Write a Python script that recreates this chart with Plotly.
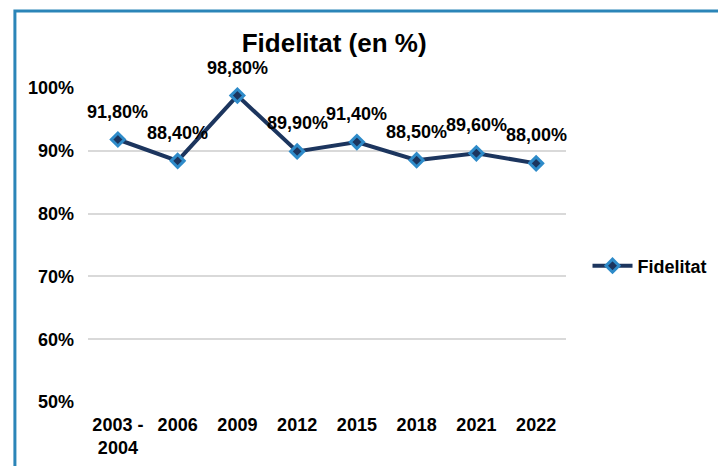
import plotly.graph_objects as go

# Survey waves and loyalty share (%)
years = ["2003 -<br>2004", "2006", "2009", "2012", "2015", "2018", "2021", "2022"]
fidelitat = [91.8, 88.4, 98.8, 89.9, 91.4, 88.5, 89.6, 88.0]
y_ticks = [50, 60, 70, 80, 90, 100]
y_tick_text = [f"{v}%" for v in y_ticks]

FONT = "Liberation Sans, Arial, sans-serif"
NAVY = "#1c355e"
BLUE = "#2e8bc9"
SIZE = 18

fig = go.Figure()
fig.add_trace(go.Scatter(
    x=list(range(len(years))), y=fidelitat, mode="lines+markers", name="Fidelitat",
    line=dict(color=NAVY, width=4),
    marker=dict(symbol="diamond", size=10, color=NAVY,
                line=dict(color=BLUE, width=3)),
    cliponaxis=False,
))

# Value labels above each point, formatted with a decimal comma
for i, v in enumerate(fidelitat):
    fig.add_annotation(
        x=i, y=v, text=f"{v:.2f}".replace(".", ",") + "%",
        showarrow=False, yshift=28, yanchor="middle",
        font=dict(family=FONT, size=SIZE, color="black", weight="bold"),
    )

fig.update_layout(
    width=718, height=466,
    margin=dict(l=88, r=152, t=88, b=64, autoexpand=False),
    paper_bgcolor="white", plot_bgcolor="white",
    title=dict(text="Fidelitat (en %)", x=0.515, xref="paper", xanchor="center",
               y=1 - 43 / 466, yanchor="middle",
               font=dict(family=FONT, size=26, color="black", weight="bold")),
    xaxis=dict(range=[-0.5, 7.5], tickvals=list(range(len(years))), ticktext=years,
               showgrid=False, showline=False, zeroline=False, ticks="",
               ticklabelstandoff=10,
               tickfont=dict(family=FONT, size=SIZE, color="black", weight="bold")),
    yaxis=dict(range=[50, 100], tickvals=y_ticks, ticktext=y_tick_text,
               showgrid=True, gridcolor="#d9d9d9", gridwidth=1.5,
               showline=False, zeroline=False, ticks="", ticklabelstandoff=13,
               tickfont=dict(family=FONT, size=SIZE, color="black", weight="bold")),
    legend=dict(x=1.045, xanchor="left", y=0.433, yanchor="middle",
                bgcolor="rgba(0,0,0,0)", itemwidth=40,
                font=dict(family=FONT, size=SIZE, color="black", weight="bold")),
    showlegend=True,
    shapes=[dict(type="rect", xref="paper", yref="paper",
                 x0=-0.1529, x1=2.0, y0=-1.0, y1=1.2452,
                 line=dict(color="#2b85b8", width=3), layer="above")],
)

fig.write_html("out.html")
